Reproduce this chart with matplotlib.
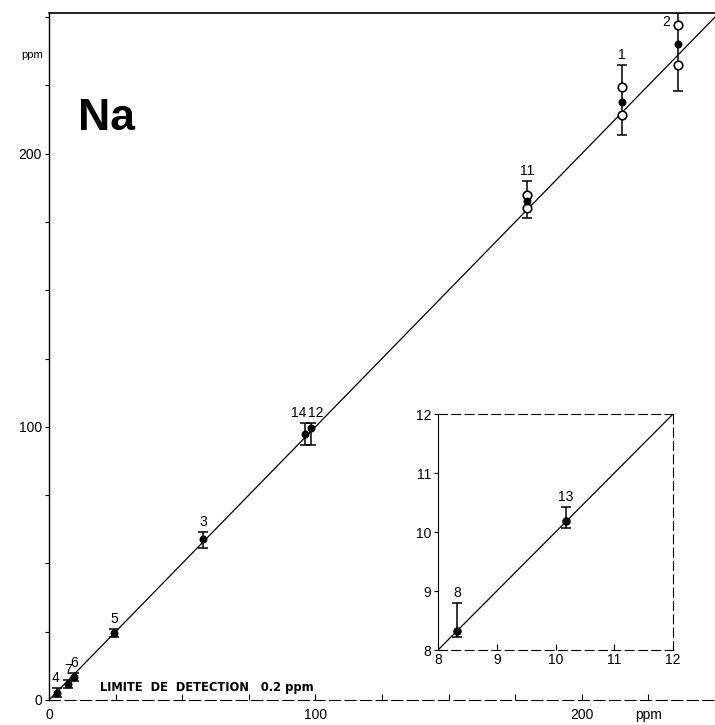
import matplotlib.pyplot as plt

# Main chart: mean values (filled dots) with error bars
labels = ['4', '7', '6', '5', '3', '14', '12', '11', '1', '2']
x_vals = [3, 7, 9.5, 24.5, 58, 96, 98.5, 179.5, 215, 236]
y_vals = [2.5, 6, 8.5, 24.5, 59, 97.5, 99.5, 182.5, 219, 240]
err_low = [1.5, 1.5, 1.5, 1.5, 3.5, 4, 6, 6, 12, 17]
err_high = [2, 1.5, 1.5, 1.5, 2.5, 4, 2, 7.5, 13.6, 11.6]

# individual determinations (open circles)
open_x = [179.5, 179.5, 215, 215, 236, 236]
open_y = [185, 180, 224.5, 214, 247, 232.6]

# inset (8 - 12 ppm)
ins_labels = ['8', '13']
ins_x = [8.32, 10.18]
ins_y = [8.32, 10.19]
ins_low = [0.1, 0.12]
ins_high = [0.48, 0.23]

plt.rcParams['font.family'] = ['Liberation Sans', 'DejaVu Sans']

fig = plt.figure(figsize=(7.15, 7.25), dpi=100)
ax = fig.add_axes([0.0685, 0.0345, 0.9315, 0.9476])

ax.plot([0, 252], [0, 252], color='black', lw=0.9, zorder=1)
ax.errorbar(x_vals, y_vals, yerr=[err_low, err_high], fmt='none',
            ecolor='black', elinewidth=1.1, capsize=3.5, capthick=1.1, zorder=2)
ax.scatter(open_x, open_y, s=38, facecolor='white', edgecolor='black',
           linewidth=1.2, zorder=3)
ax.scatter(x_vals, y_vals, s=22, color='black', zorder=4)

# point labels
offsets = {'14': (-4, 2), '12': (3, 2), '2': (-8, -7), '4': (-1, 2)}
for lab, x, y, eh in zip(labels, x_vals, y_vals, err_high):
    dx, dy = offsets.get(lab, (0, 2))
    va = 'center' if lab == '2' else 'bottom'
    ax.annotate(lab, (x, y + eh), xytext=(dx, dy), textcoords='offset points',
                ha='center', va=va, fontsize=10)

ax.set_xlim(0, 244)
ax.set_ylim(0, 251.5)
ticks = list(range(0, 251, 25))
ax.set_xticks(ticks)
ax.set_xticklabels(['0' if t == 0 else str(t) if t in (100, 200) else '' for t in ticks])
ax.set_yticks(ticks)
ax.set_yticklabels(['0' if t == 0 else str(t) if t in (100, 200) else '' for t in ticks])
ax.tick_params(axis='x', direction='in', length=4, labelsize=10, pad=6)
ax.tick_params(axis='y', direction='out', length=3, labelsize=10, pad=2)
ax.spines['right'].set_visible(False)
ax.spines['bottom'].set_linestyle((0, (10, 4)))
ax.spines['left'].set_linewidth(1.0)
ax.spines['top'].set_linewidth(1.2)

ax.annotate('ppm', (225, 0), xycoords=('data', 'axes fraction'), xytext=(0, -6),
            textcoords='offset points', ha='center', va='top', fontsize=10)
ax.annotate('ppm', (0, 236), xycoords=('axes fraction', 'data'), xytext=(-4, 0),
            textcoords='offset points', ha='right', va='center', fontsize=8)
ax.text(19, 4.4, 'LIMITE  DE  DETECTION   0.2 ppm', fontsize=8.3, fontweight='bold',
        family='DejaVu Sans', va='center', ha='left')
ax.text(11, 213, 'Na', fontsize=32, fontweight='bold', va='center', ha='left')

# inset
ins = fig.add_axes([0.6126, 0.1034, 0.3287, 0.3255])
ins.plot([8, 12], [8, 12], color='black', lw=0.9, zorder=1)
ins.errorbar(ins_x, ins_y, yerr=[ins_low, ins_high], fmt='none', ecolor='black',
             elinewidth=1.1, capsize=3.5, capthick=1.1, zorder=2)
ins.scatter(ins_x, ins_y, s=26, color='black', zorder=3)
for lab, x, y, eh in zip(ins_labels, ins_x, ins_y, ins_high):
    ins.annotate(lab, (x, y + eh), xytext=(0, 2), textcoords='offset points',
                 ha='center', va='bottom', fontsize=10)
ins.set_xlim(8, 12)
ins.set_ylim(8, 12)
ins.set_xticks([8, 9, 10, 11, 12])
ins.set_yticks([8, 9, 10, 11, 12])
ins.tick_params(axis='x', direction='in', length=4, labelsize=10, pad=2)
ins.tick_params(axis='y', direction='out', length=3, labelsize=10, pad=2)
for side in ['top', 'right', 'bottom']:
    ins.spines[side].set_linestyle((0, (8, 4)))
ins.patch.set_facecolor('white')

fig.savefig('out.png', dpi=100, facecolor='white')
